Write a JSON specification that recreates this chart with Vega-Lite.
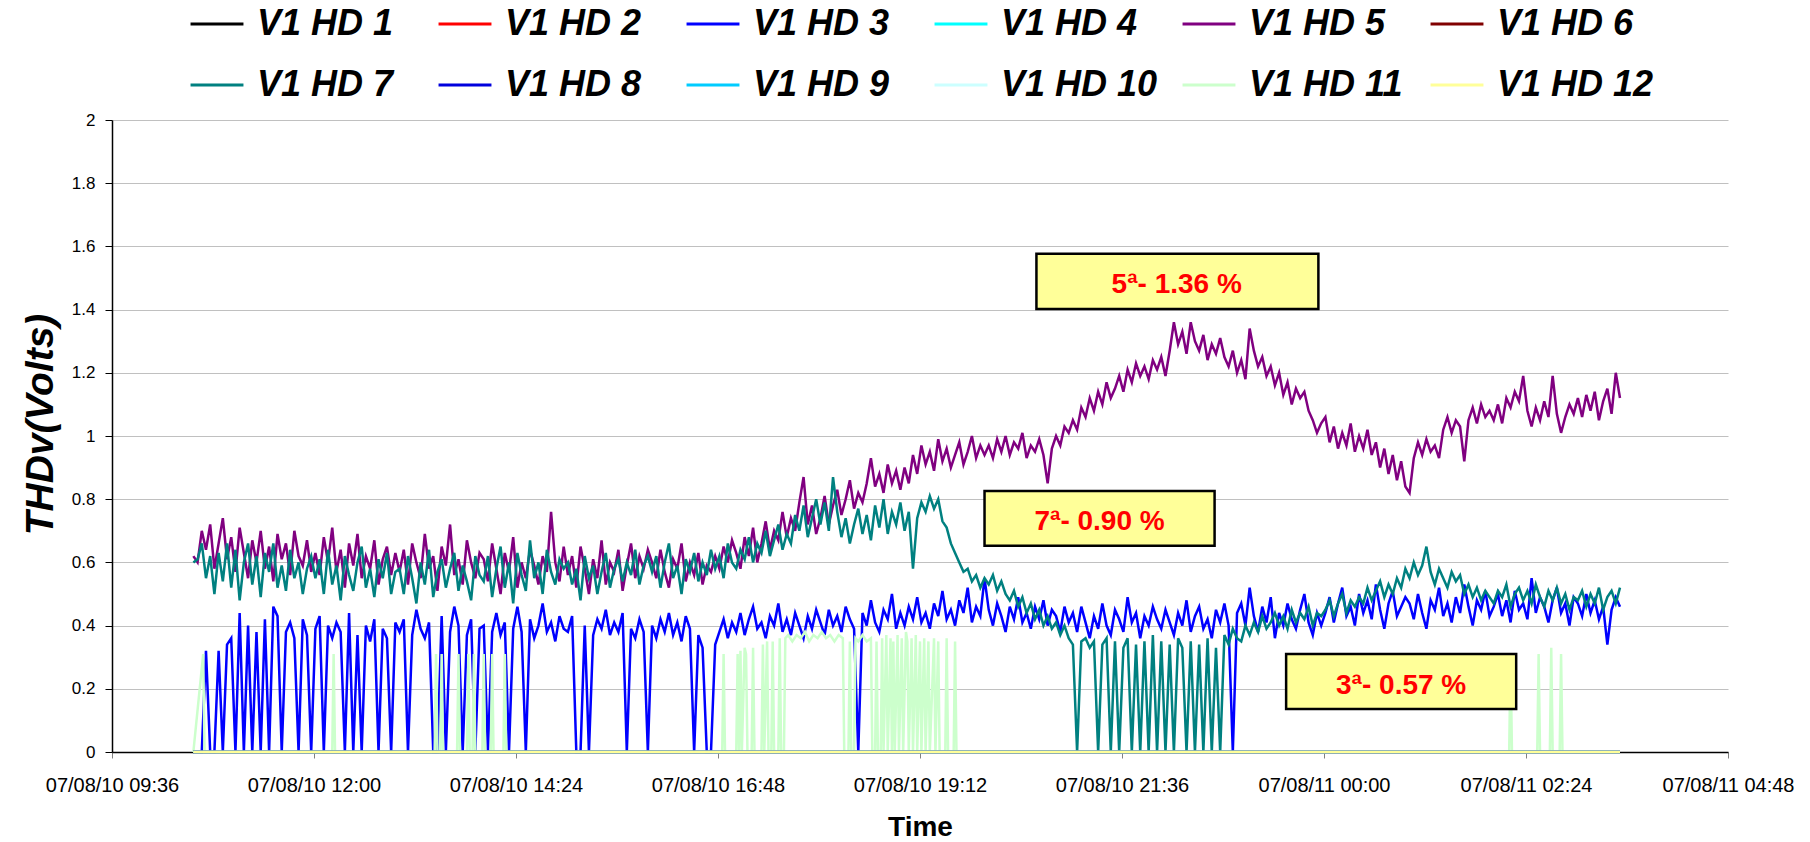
{
"$schema": "https://vega.github.io/schema/vega-lite/v6.json",
"width": 1616, "height": 632,
"autosize": {"type": "none"},
"padding": {"left": 112, "top": 120, "right": 82, "bottom": 90},
"background": "white",
"config": {
  "view": {"stroke": null},
  "font": "Liberation Sans",
  "axis": {"labelFont": "Liberation Sans", "titleFont": "Liberation Sans", "labelColor": "#000", "titleColor": "#000"}
},
"encoding": {
  "x": {"field": "t", "type": "temporal", "title": "Time",
    "scale": {"domain": [{"year": 2007, "month": 8, "date": 10, "hours": 9, "minutes": 36}, {"year": 2007, "month": 8, "date": 11, "hours": 4, "minutes": 48}], "nice": false},
    "axis": {"values": [
      {"year": 2007, "month": 8, "date": 10, "hours": 9, "minutes": 36},
      {"year": 2007, "month": 8, "date": 10, "hours": 12, "minutes": 0},
      {"year": 2007, "month": 8, "date": 10, "hours": 14, "minutes": 24},
      {"year": 2007, "month": 8, "date": 10, "hours": 16, "minutes": 48},
      {"year": 2007, "month": 8, "date": 10, "hours": 19, "minutes": 12},
      {"year": 2007, "month": 8, "date": 10, "hours": 21, "minutes": 36},
      {"year": 2007, "month": 8, "date": 11, "hours": 0, "minutes": 0},
      {"year": 2007, "month": 8, "date": 11, "hours": 2, "minutes": 24},
      {"year": 2007, "month": 8, "date": 11, "hours": 4, "minutes": 48}],
      "format": "%y/%m/%d %H:%M", "grid": false, "labelFontSize": 20, "labelPadding": 17, "tickSize": 6, "tickColor": "#808080", "domainColor": "#000", "domainWidth": 1.5, "labelOverlap": false, "labelFlush": false,
      "titleFontSize": 28, "titleFontWeight": "bold", "titleX": 808, "titleY": 75, "titleBaseline": "middle", "titleAlign": "center"}},
  "y": {"field": "v", "type": "quantitative", "title": "THDv(Volts)",
    "scale": {"domain": [0, 2], "nice": false},
    "axis": {"values": [0, 0.2, 0.4, 0.6, 0.8, 1, 1.2, 1.4, 1.6, 1.8, 2], "format": "~g", "labelFontSize": 17, "labelPadding": 10, "tickSize": 7, "tickColor": "#000", "domainColor": "#000", "domainWidth": 1.5, "grid": true, "gridColor": "#C0C0C0", "gridWidth": 1,
      "titleFontSize": 39, "titleFontWeight": "bold", "titleFontStyle": "italic", "titleAngle": 270, "titleX": -72, "titleY": 304, "titleAlign": "center", "titleBaseline": "middle"}}
},
"layer": [
{
  "data": {"values": [
{"t":"2007-08-10T10:34","h3":0,"h5":0.62,"h7":0.6},
{"t":"2007-08-10T10:37","h3":0,"h5":0.6,"h7":0.61},
{"t":"2007-08-10T10:40","h3":0,"h5":0.7,"h7":0.66},
{"t":"2007-08-10T10:43","h3":0.32,"h5":0.64,"h7":0.55},
{"t":"2007-08-10T10:46","h3":0,"h5":0.72,"h7":0.62},
{"t":"2007-08-10T10:49","h3":0,"h5":0.58,"h7":0.5},
{"t":"2007-08-10T10:52","h3":0.32,"h5":0.66,"h7":0.63},
{"t":"2007-08-10T10:55","h3":0,"h5":0.74,"h7":0.54},
{"t":"2007-08-10T10:58","h3":0.34,"h5":0.61,"h7":0.66},
{"t":"2007-08-10T11:01","h3":0.36,"h5":0.68,"h7":0.52},
{"t":"2007-08-10T11:04","h3":0,"h5":0.57,"h7":0.64},
{"t":"2007-08-10T11:07","h3":0.44,"h5":0.71,"h7":0.48},
{"t":"2007-08-10T11:10","h3":0,"h5":0.63,"h7":0.6},
{"t":"2007-08-10T11:13","h3":0.4,"h5":0.55,"h7":0.66},
{"t":"2007-08-10T11:16","h3":0,"h5":0.67,"h7":0.53},
{"t":"2007-08-10T11:19","h3":0.38,"h5":0.6,"h7":0.62},
{"t":"2007-08-10T11:22","h3":0,"h5":0.7,"h7":0.49},
{"t":"2007-08-10T11:25","h3":0.42,"h5":0.58,"h7":0.63},
{"t":"2007-08-10T11:28","h3":0,"h5":0.65,"h7":0.57},
{"t":"2007-08-10T11:31","h3":0.46,"h5":0.54,"h7":0.66},
{"t":"2007-08-10T11:34","h3":0.43,"h5":0.69,"h7":0.52},
{"t":"2007-08-10T11:37","h3":0,"h5":0.61,"h7":0.59},
{"t":"2007-08-10T11:40","h3":0.38,"h5":0.66,"h7":0.51},
{"t":"2007-08-10T11:43","h3":0.41,"h5":0.56,"h7":0.64},
{"t":"2007-08-10T11:46","h3":0.36,"h5":0.7,"h7":0.55},
{"t":"2007-08-10T11:49","h3":0,"h5":0.62,"h7":0.6},
{"t":"2007-08-10T11:52","h3":0.42,"h5":0.59,"h7":0.5},
{"t":"2007-08-10T11:55","h3":0.37,"h5":0.67,"h7":0.58},
{"t":"2007-08-10T11:58","h3":0,"h5":0.57,"h7":0.62},
{"t":"2007-08-10T12:01","h3":0.39,"h5":0.63,"h7":0.55},
{"t":"2007-08-10T12:04","h3":0.43,"h5":0.56,"h7":0.61},
{"t":"2007-08-10T12:07","h3":0,"h5":0.68,"h7":0.5},
{"t":"2007-08-10T12:10","h3":0.4,"h5":0.6,"h7":0.64},
{"t":"2007-08-10T12:13","h3":0.36,"h5":0.71,"h7":0.53},
{"t":"2007-08-10T12:16","h3":0.41,"h5":0.57,"h7":0.59},
{"t":"2007-08-10T12:19","h3":0.38,"h5":0.64,"h7":0.48},
{"t":"2007-08-10T12:22","h3":0,"h5":0.52,"h7":0.62},
{"t":"2007-08-10T12:25","h3":0.44,"h5":0.66,"h7":0.56},
{"t":"2007-08-10T12:28","h3":0,"h5":0.59,"h7":0.51},
{"t":"2007-08-10T12:31","h3":0.37,"h5":0.69,"h7":0.6},
{"t":"2007-08-10T12:34","h3":0,"h5":0.55,"h7":0.65},
{"t":"2007-08-10T12:37","h3":0.4,"h5":0.62,"h7":0.52},
{"t":"2007-08-10T12:40","h3":0.35,"h5":0.58,"h7":0.58},
{"t":"2007-08-10T12:43","h3":0.42,"h5":0.67,"h7":0.49},
{"t":"2007-08-10T12:46","h3":0,"h5":0.53,"h7":0.61},
{"t":"2007-08-10T12:49","h3":0.39,"h5":0.61,"h7":0.55},
{"t":"2007-08-10T12:52","h3":0.36,"h5":0.65,"h7":0.63},
{"t":"2007-08-10T12:55","h3":0,"h5":0.56,"h7":0.5},
{"t":"2007-08-10T12:58","h3":0.41,"h5":0.63,"h7":0.57},
{"t":"2007-08-10T13:01","h3":0.38,"h5":0.57,"h7":0.58},
{"t":"2007-08-10T13:04","h3":0.42,"h5":0.64,"h7":0.5},
{"t":"2007-08-10T13:07","h3":0,"h5":0.53,"h7":0.62},
{"t":"2007-08-10T13:10","h3":0.37,"h5":0.66,"h7":0.55},
{"t":"2007-08-10T13:13","h3":0.45,"h5":0.6,"h7":0.47},
{"t":"2007-08-10T13:16","h3":0.39,"h5":0.55,"h7":0.6},
{"t":"2007-08-10T13:19","h3":0.36,"h5":0.69,"h7":0.53},
{"t":"2007-08-10T13:22","h3":0.41,"h5":0.58,"h7":0.64},
{"t":"2007-08-10T13:25","h3":0,"h5":0.62,"h7":0.49},
{"t":"2007-08-10T13:28","h3":0,"h5":0.51,"h7":0.57},
{"t":"2007-08-10T13:31","h3":0.43,"h5":0.65,"h7":0.61},
{"t":"2007-08-10T13:34","h3":0,"h5":0.59,"h7":0.52},
{"t":"2007-08-10T13:37","h3":0.38,"h5":0.72,"h7":0.58},
{"t":"2007-08-10T13:40","h3":0.46,"h5":0.56,"h7":0.63},
{"t":"2007-08-10T13:43","h3":0.4,"h5":0.61,"h7":0.51},
{"t":"2007-08-10T13:46","h3":0,"h5":0.53,"h7":0.59},
{"t":"2007-08-10T13:49","h3":0.37,"h5":0.67,"h7":0.54},
{"t":"2007-08-10T13:52","h3":0.42,"h5":0.6,"h7":0.48},
{"t":"2007-08-10T13:55","h3":0,"h5":0.55,"h7":0.62},
{"t":"2007-08-10T13:58","h3":0.39,"h5":0.63,"h7":0.56},
{"t":"2007-08-10T14:01","h3":0.4,"h5":0.61,"h7":0.54},
{"t":"2007-08-10T14:04","h3":0,"h5":0.54,"h7":0.62},
{"t":"2007-08-10T14:07","h3":0.38,"h5":0.66,"h7":0.49},
{"t":"2007-08-10T14:10","h3":0.44,"h5":0.58,"h7":0.58},
{"t":"2007-08-10T14:13","h3":0.37,"h5":0.5,"h7":0.65},
{"t":"2007-08-10T14:16","h3":0.41,"h5":0.63,"h7":0.52},
{"t":"2007-08-10T14:19","h3":0,"h5":0.57,"h7":0.6},
{"t":"2007-08-10T14:22","h3":0.39,"h5":0.68,"h7":0.47},
{"t":"2007-08-10T14:25","h3":0.46,"h5":0.52,"h7":0.63},
{"t":"2007-08-10T14:28","h3":0.38,"h5":0.6,"h7":0.56},
{"t":"2007-08-10T14:31","h3":0,"h5":0.55,"h7":0.51},
{"t":"2007-08-10T14:34","h3":0.42,"h5":0.64,"h7":0.67},
{"t":"2007-08-10T14:37","h3":0.36,"h5":0.59,"h7":0.55},
{"t":"2007-08-10T14:40","h3":0.4,"h5":0.53,"h7":0.6},
{"t":"2007-08-10T14:43","h3":0.47,"h5":0.62,"h7":0.5},
{"t":"2007-08-10T14:46","h3":0.38,"h5":0.57,"h7":0.64},
{"t":"2007-08-10T14:49","h3":0.41,"h5":0.76,"h7":0.57},
{"t":"2007-08-10T14:52","h3":0.35,"h5":0.6,"h7":0.53},
{"t":"2007-08-10T14:55","h3":0.43,"h5":0.54,"h7":0.61},
{"t":"2007-08-10T14:58","h3":0.39,"h5":0.65,"h7":0.58},
{"t":"2007-08-10T15:01","h3":0.38,"h5":0.56,"h7":0.6},
{"t":"2007-08-10T15:04","h3":0.43,"h5":0.62,"h7":0.53},
{"t":"2007-08-10T15:07","h3":0,"h5":0.52,"h7":0.58},
{"t":"2007-08-10T15:10","h3":0,"h5":0.65,"h7":0.48},
{"t":"2007-08-10T15:13","h3":0.4,"h5":0.58,"h7":0.62},
{"t":"2007-08-10T15:16","h3":0,"h5":0.5,"h7":0.55},
{"t":"2007-08-10T15:19","h3":0.37,"h5":0.61,"h7":0.59},
{"t":"2007-08-10T15:22","h3":0.42,"h5":0.55,"h7":0.5},
{"t":"2007-08-10T15:25","h3":0.39,"h5":0.67,"h7":0.57},
{"t":"2007-08-10T15:28","h3":0.45,"h5":0.53,"h7":0.63},
{"t":"2007-08-10T15:31","h3":0.37,"h5":0.6,"h7":0.52},
{"t":"2007-08-10T15:34","h3":0.41,"h5":0.57,"h7":0.58},
{"t":"2007-08-10T15:37","h3":0.38,"h5":0.64,"h7":0.61},
{"t":"2007-08-10T15:40","h3":0.44,"h5":0.51,"h7":0.54},
{"t":"2007-08-10T15:43","h3":0,"h5":0.59,"h7":0.6},
{"t":"2007-08-10T15:46","h3":0.39,"h5":0.66,"h7":0.56},
{"t":"2007-08-10T15:49","h3":0.36,"h5":0.55,"h7":0.64},
{"t":"2007-08-10T15:52","h3":0.42,"h5":0.62,"h7":0.53},
{"t":"2007-08-10T15:55","h3":0.38,"h5":0.58,"h7":0.59},
{"t":"2007-08-10T15:58","h3":0,"h5":0.64,"h7":0.62},
{"t":"2007-08-10T16:01","h3":0.4,"h5":0.6,"h7":0.57},
{"t":"2007-08-10T16:04","h3":0.36,"h5":0.55,"h7":0.62},
{"t":"2007-08-10T16:07","h3":0.42,"h5":0.64,"h7":0.52},
{"t":"2007-08-10T16:10","h3":0.38,"h5":0.57,"h7":0.6},
{"t":"2007-08-10T16:13","h3":0.44,"h5":0.52,"h7":0.66},
{"t":"2007-08-10T16:16","h3":0.37,"h5":0.61,"h7":0.55},
{"t":"2007-08-10T16:19","h3":0.41,"h5":0.58,"h7":0.59},
{"t":"2007-08-10T16:22","h3":0.35,"h5":0.66,"h7":0.5},
{"t":"2007-08-10T16:25","h3":0.43,"h5":0.54,"h7":0.61},
{"t":"2007-08-10T16:28","h3":0.39,"h5":0.6,"h7":0.57},
{"t":"2007-08-10T16:31","h3":0,"h5":0.56,"h7":0.63},
{"t":"2007-08-10T16:34","h3":0.37,"h5":0.63,"h7":0.54},
{"t":"2007-08-10T16:37","h3":0.33,"h5":0.53,"h7":0.6},
{"t":"2007-08-10T16:40","h3":0,"h5":0.59,"h7":0.56},
{"t":"2007-08-10T16:43","h3":0,"h5":0.57,"h7":0.64},
{"t":"2007-08-10T16:46","h3":0.34,"h5":0.62,"h7":0.58},
{"t":"2007-08-10T16:49","h3":0.38,"h5":0.58,"h7":0.62},
{"t":"2007-08-10T16:52","h3":0.42,"h5":0.65,"h7":0.55},
{"t":"2007-08-10T16:55","h3":0.36,"h5":0.6,"h7":0.66},
{"t":"2007-08-10T16:58","h3":0.41,"h5":0.67,"h7":0.6},
{"t":"2007-08-10T17:01","h3":0.38,"h5":0.63,"h7":0.58},
{"t":"2007-08-10T17:04","h3":0.44,"h5":0.58,"h7":0.64},
{"t":"2007-08-10T17:07","h3":0.37,"h5":0.68,"h7":0.61},
{"t":"2007-08-10T17:10","h3":0.42,"h5":0.62,"h7":0.68},
{"t":"2007-08-10T17:13","h3":0.46,"h5":0.71,"h7":0.6},
{"t":"2007-08-10T17:16","h3":0.39,"h5":0.6,"h7":0.66},
{"t":"2007-08-10T17:19","h3":0.41,"h5":0.66,"h7":0.63},
{"t":"2007-08-10T17:22","h3":0.36,"h5":0.73,"h7":0.7},
{"t":"2007-08-10T17:25","h3":0.43,"h5":0.64,"h7":0.62},
{"t":"2007-08-10T17:28","h3":0.4,"h5":0.7,"h7":0.67},
{"t":"2007-08-10T17:31","h3":0.47,"h5":0.67,"h7":0.72},
{"t":"2007-08-10T17:34","h3":0.38,"h5":0.76,"h7":0.64},
{"t":"2007-08-10T17:37","h3":0.42,"h5":0.68,"h7":0.69},
{"t":"2007-08-10T17:40","h3":0.37,"h5":0.74,"h7":0.66},
{"t":"2007-08-10T17:43","h3":0.44,"h5":0.7,"h7":0.75},
{"t":"2007-08-10T17:46","h3":0.4,"h5":0.79,"h7":0.7},
{"t":"2007-08-10T17:49","h3":0.36,"h5":0.87,"h7":0.78},
{"t":"2007-08-10T17:52","h3":0.43,"h5":0.72,"h7":0.68},
{"t":"2007-08-10T17:55","h3":0.39,"h5":0.78,"h7":0.74},
{"t":"2007-08-10T17:58","h3":0.45,"h5":0.69,"h7":0.8},
{"t":"2007-08-10T18:01","h3":0.41,"h5":0.74,"h7":0.72},
{"t":"2007-08-10T18:04","h3":0.37,"h5":0.81,"h7":0.79},
{"t":"2007-08-10T18:07","h3":0.45,"h5":0.72,"h7":0.7},
{"t":"2007-08-10T18:10","h3":0.4,"h5":0.78,"h7":0.87},
{"t":"2007-08-10T18:13","h3":0.43,"h5":0.83,"h7":0.76},
{"t":"2007-08-10T18:16","h3":0.38,"h5":0.75,"h7":0.68},
{"t":"2007-08-10T18:19","h3":0.46,"h5":0.8,"h7":0.74},
{"t":"2007-08-10T18:22","h3":0.42,"h5":0.86,"h7":0.66},
{"t":"2007-08-10T18:25","h3":0.39,"h5":0.77,"h7":0.72},
{"t":"2007-08-10T18:28","h3":0,"h5":0.82,"h7":0.77},
{"t":"2007-08-10T18:31","h3":0.44,"h5":0.79,"h7":0.69},
{"t":"2007-08-10T18:34","h3":0.4,"h5":0.85,"h7":0.75},
{"t":"2007-08-10T18:37","h3":0.48,"h5":0.93,"h7":0.67},
{"t":"2007-08-10T18:40","h3":0.41,"h5":0.84,"h7":0.78},
{"t":"2007-08-10T18:43","h3":0.38,"h5":0.88,"h7":0.71},
{"t":"2007-08-10T18:46","h3":0.45,"h5":0.82,"h7":0.8},
{"t":"2007-08-10T18:49","h3":0.42,"h5":0.91,"h7":0.69},
{"t":"2007-08-10T18:52","h3":0.5,"h5":0.85,"h7":0.76},
{"t":"2007-08-10T18:55","h3":0.39,"h5":0.89,"h7":0.72},
{"t":"2007-08-10T18:58","h3":0.44,"h5":0.83,"h7":0.79},
{"t":"2007-08-10T19:01","h3":0.4,"h5":0.9,"h7":0.7},
{"t":"2007-08-10T19:04","h3":0.46,"h5":0.85,"h7":0.76},
{"t":"2007-08-10T19:07","h3":0.42,"h5":0.94,"h7":0.58},
{"t":"2007-08-10T19:10","h3":0.49,"h5":0.88,"h7":0.74},
{"t":"2007-08-10T19:13","h3":0.41,"h5":0.97,"h7":0.79},
{"t":"2007-08-10T19:16","h3":0.44,"h5":0.91,"h7":0.76},
{"t":"2007-08-10T19:19","h3":0.39,"h5":0.95,"h7":0.81},
{"t":"2007-08-10T19:22","h3":0.47,"h5":0.89,"h7":0.77},
{"t":"2007-08-10T19:25","h3":0.43,"h5":0.99,"h7":0.8},
{"t":"2007-08-10T19:28","h3":0.51,"h5":0.92,"h7":0.73},
{"t":"2007-08-10T19:31","h3":0.42,"h5":0.96,"h7":0.71},
{"t":"2007-08-10T19:34","h3":0.45,"h5":0.9,"h7":0.66},
{"t":"2007-08-10T19:37","h3":0.4,"h5":0.94,"h7":0.63},
{"t":"2007-08-10T19:40","h3":0.48,"h5":0.98,"h7":0.6},
{"t":"2007-08-10T19:43","h3":0.44,"h5":0.91,"h7":0.57},
{"t":"2007-08-10T19:46","h3":0.52,"h5":0.95,"h7":0.58},
{"t":"2007-08-10T19:49","h3":0.41,"h5":1.0,"h7":0.54},
{"t":"2007-08-10T19:52","h3":0.46,"h5":0.93,"h7":0.56},
{"t":"2007-08-10T19:55","h3":0.43,"h5":0.97,"h7":0.52},
{"t":"2007-08-10T19:58","h3":0.55,"h5":0.94,"h7":0.55},
{"t":"2007-08-10T20:01","h3":0.45,"h5":0.97,"h7":0.53},
{"t":"2007-08-10T20:04","h3":0.4,"h5":0.93,"h7":0.56},
{"t":"2007-08-10T20:07","h3":0.47,"h5":0.99,"h7":0.51},
{"t":"2007-08-10T20:10","h3":0.43,"h5":0.95,"h7":0.54},
{"t":"2007-08-10T20:13","h3":0.38,"h5":1.0,"h7":0.5},
{"t":"2007-08-10T20:16","h3":0.46,"h5":0.94,"h7":0.48},
{"t":"2007-08-10T20:19","h3":0.42,"h5":0.98,"h7":0.51},
{"t":"2007-08-10T20:22","h3":0.49,"h5":0.96,"h7":0.46},
{"t":"2007-08-10T20:25","h3":0.41,"h5":1.01,"h7":0.49},
{"t":"2007-08-10T20:28","h3":0.44,"h5":0.93,"h7":0.44},
{"t":"2007-08-10T20:31","h3":0.39,"h5":0.97,"h7":0.47},
{"t":"2007-08-10T20:34","h3":0.46,"h5":0.95,"h7":0.42},
{"t":"2007-08-10T20:37","h3":0.42,"h5":0.99,"h7":0.45},
{"t":"2007-08-10T20:40","h3":0.48,"h5":0.94,"h7":0.4},
{"t":"2007-08-10T20:43","h3":0.4,"h5":0.85,"h7":0.43},
{"t":"2007-08-10T20:46","h3":0.45,"h5":0.96,"h7":0.39},
{"t":"2007-08-10T20:49","h3":0.43,"h5":1.0,"h7":0.41},
{"t":"2007-08-10T20:52","h3":0.38,"h5":0.97,"h7":0.37},
{"t":"2007-08-10T20:55","h3":0.46,"h5":1.03,"h7":0.4},
{"t":"2007-08-10T20:58","h3":0.41,"h5":1.01,"h7":0.36},
{"t":"2007-08-10T21:01","h3":0.44,"h5":1.05,"h7":0.34},
{"t":"2007-08-10T21:04","h3":0.38,"h5":1.02,"h7":0},
{"t":"2007-08-10T21:07","h3":0.46,"h5":1.09,"h7":0.35},
{"t":"2007-08-10T21:10","h3":0.41,"h5":1.06,"h7":0.36},
{"t":"2007-08-10T21:13","h3":0.36,"h5":1.12,"h7":0.33},
{"t":"2007-08-10T21:16","h3":0.43,"h5":1.08,"h7":0.35},
{"t":"2007-08-10T21:19","h3":0.39,"h5":1.14,"h7":0},
{"t":"2007-08-10T21:22","h3":0.47,"h5":1.1,"h7":0.34},
{"t":"2007-08-10T21:25","h3":0.4,"h5":1.17,"h7":0.36},
{"t":"2007-08-10T21:28","h3":0.37,"h5":1.12,"h7":0},
{"t":"2007-08-10T21:31","h3":0.45,"h5":1.15,"h7":0.35},
{"t":"2007-08-10T21:34","h3":0.42,"h5":1.19,"h7":0},
{"t":"2007-08-10T21:37","h3":0.38,"h5":1.14,"h7":0.33},
{"t":"2007-08-10T21:40","h3":0.49,"h5":1.21,"h7":0.36},
{"t":"2007-08-10T21:43","h3":0.41,"h5":1.17,"h7":0},
{"t":"2007-08-10T21:46","h3":0.44,"h5":1.23,"h7":0.34},
{"t":"2007-08-10T21:49","h3":0.36,"h5":1.19,"h7":0},
{"t":"2007-08-10T21:52","h3":0.43,"h5":1.22,"h7":0.35},
{"t":"2007-08-10T21:55","h3":0.4,"h5":1.18,"h7":0},
{"t":"2007-08-10T21:58","h3":0.46,"h5":1.24,"h7":0.37},
{"t":"2007-08-10T22:01","h3":0.42,"h5":1.21,"h7":0},
{"t":"2007-08-10T22:04","h3":0.39,"h5":1.25,"h7":0.35},
{"t":"2007-08-10T22:07","h3":0.45,"h5":1.19,"h7":0},
{"t":"2007-08-10T22:10","h3":0.41,"h5":1.27,"h7":0.34},
{"t":"2007-08-10T22:13","h3":0.37,"h5":1.36,"h7":0},
{"t":"2007-08-10T22:16","h3":0.44,"h5":1.29,"h7":0.36},
{"t":"2007-08-10T22:19","h3":0.4,"h5":1.33,"h7":0.33},
{"t":"2007-08-10T22:22","h3":0.48,"h5":1.26,"h7":0},
{"t":"2007-08-10T22:25","h3":0.38,"h5":1.36,"h7":0.35},
{"t":"2007-08-10T22:28","h3":0.43,"h5":1.3,"h7":0},
{"t":"2007-08-10T22:31","h3":0.46,"h5":1.27,"h7":0.34},
{"t":"2007-08-10T22:34","h3":0.39,"h5":1.32,"h7":0},
{"t":"2007-08-10T22:37","h3":0.42,"h5":1.24,"h7":0.36},
{"t":"2007-08-10T22:40","h3":0.36,"h5":1.29,"h7":0},
{"t":"2007-08-10T22:43","h3":0.45,"h5":1.26,"h7":0.33},
{"t":"2007-08-10T22:46","h3":0.41,"h5":1.31,"h7":0},
{"t":"2007-08-10T22:49","h3":0.47,"h5":1.25,"h7":0.37},
{"t":"2007-08-10T22:52","h3":0.4,"h5":1.22,"h7":0.34},
{"t":"2007-08-10T22:55","h3":0,"h5":1.27,"h7":0.39},
{"t":"2007-08-10T22:58","h3":0.44,"h5":1.2,"h7":0.36},
{"t":"2007-08-10T23:01","h3":0.47,"h5":1.24,"h7":0.35},
{"t":"2007-08-10T23:04","h3":0.4,"h5":1.18,"h7":0.4},
{"t":"2007-08-10T23:07","h3":0.52,"h5":1.34,"h7":0.37},
{"t":"2007-08-10T23:10","h3":0.43,"h5":1.27,"h7":0.41},
{"t":"2007-08-10T23:13","h3":0.38,"h5":1.22,"h7":0.38},
{"t":"2007-08-10T23:16","h3":0.46,"h5":1.25,"h7":0.43},
{"t":"2007-08-10T23:19","h3":0.41,"h5":1.19,"h7":0.39},
{"t":"2007-08-10T23:22","h3":0.49,"h5":1.22,"h7":0.41},
{"t":"2007-08-10T23:25","h3":0.36,"h5":1.16,"h7":0.44},
{"t":"2007-08-10T23:28","h3":0.44,"h5":1.2,"h7":0.4},
{"t":"2007-08-10T23:31","h3":0.4,"h5":1.13,"h7":0.43},
{"t":"2007-08-10T23:34","h3":0.47,"h5":1.17,"h7":0.39},
{"t":"2007-08-10T23:37","h3":0.42,"h5":1.1,"h7":0.45},
{"t":"2007-08-10T23:40","h3":0.39,"h5":1.15,"h7":0.41},
{"t":"2007-08-10T23:43","h3":0.45,"h5":1.12,"h7":0.44},
{"t":"2007-08-10T23:46","h3":0.5,"h5":1.14,"h7":0.42},
{"t":"2007-08-10T23:49","h3":0.41,"h5":1.08,"h7":0.46},
{"t":"2007-08-10T23:52","h3":0.37,"h5":1.05,"h7":0.4},
{"t":"2007-08-10T23:55","h3":0.44,"h5":1.01,"h7":0.44},
{"t":"2007-08-10T23:58","h3":0.4,"h5":1.04,"h7":0.43},
{"t":"2007-08-11T00:01","h3":0.44,"h5":1.06,"h7":0.45},
{"t":"2007-08-11T00:04","h3":0.49,"h5":0.98,"h7":0.48},
{"t":"2007-08-11T00:07","h3":0.41,"h5":1.03,"h7":0.43},
{"t":"2007-08-11T00:10","h3":0.47,"h5":0.96,"h7":0.47},
{"t":"2007-08-11T00:13","h3":0.52,"h5":1.01,"h7":0.5},
{"t":"2007-08-11T00:16","h3":0.43,"h5":0.97,"h7":0.44},
{"t":"2007-08-11T00:19","h3":0.46,"h5":1.04,"h7":0.48},
{"t":"2007-08-11T00:22","h3":0.4,"h5":0.95,"h7":0.46},
{"t":"2007-08-11T00:25","h3":0.5,"h5":1.0,"h7":0.49},
{"t":"2007-08-11T00:28","h3":0.44,"h5":0.96,"h7":0.47},
{"t":"2007-08-11T00:31","h3":0.48,"h5":1.02,"h7":0.52},
{"t":"2007-08-11T00:34","h3":0.42,"h5":0.94,"h7":0.48},
{"t":"2007-08-11T00:37","h3":0.53,"h5":0.98,"h7":0.51},
{"t":"2007-08-11T00:40","h3":0.45,"h5":0.9,"h7":0.54},
{"t":"2007-08-11T00:43","h3":0.39,"h5":0.96,"h7":0.49},
{"t":"2007-08-11T00:46","h3":0.47,"h5":0.88,"h7":0.53},
{"t":"2007-08-11T00:49","h3":0.51,"h5":0.94,"h7":0.5},
{"t":"2007-08-11T00:52","h3":0.43,"h5":0.86,"h7":0.55},
{"t":"2007-08-11T00:55","h3":0.46,"h5":0.92,"h7":0.52},
{"t":"2007-08-11T00:58","h3":0.49,"h5":0.84,"h7":0.58},
{"t":"2007-08-11T01:01","h3":0.47,"h5":0.82,"h7":0.55},
{"t":"2007-08-11T01:04","h3":0.42,"h5":0.93,"h7":0.6},
{"t":"2007-08-11T01:07","h3":0.5,"h5":0.98,"h7":0.56},
{"t":"2007-08-11T01:10","h3":0.44,"h5":0.94,"h7":0.59},
{"t":"2007-08-11T01:13","h3":0.39,"h5":0.99,"h7":0.65},
{"t":"2007-08-11T01:16","h3":0.48,"h5":0.95,"h7":0.57},
{"t":"2007-08-11T01:19","h3":0.45,"h5":0.97,"h7":0.53},
{"t":"2007-08-11T01:22","h3":0.52,"h5":0.93,"h7":0.58},
{"t":"2007-08-11T01:25","h3":0.43,"h5":1.02,"h7":0.55},
{"t":"2007-08-11T01:28","h3":0.47,"h5":1.06,"h7":0.52},
{"t":"2007-08-11T01:31","h3":0.41,"h5":1.01,"h7":0.57},
{"t":"2007-08-11T01:34","h3":0.49,"h5":1.05,"h7":0.54},
{"t":"2007-08-11T01:37","h3":0.44,"h5":1.03,"h7":0.56},
{"t":"2007-08-11T01:40","h3":0.53,"h5":0.92,"h7":0.5},
{"t":"2007-08-11T01:43","h3":0.46,"h5":1.05,"h7":0.53},
{"t":"2007-08-11T01:46","h3":0.4,"h5":1.09,"h7":0.49},
{"t":"2007-08-11T01:49","h3":0.48,"h5":1.04,"h7":0.52},
{"t":"2007-08-11T01:52","h3":0.45,"h5":1.1,"h7":0.48},
{"t":"2007-08-11T01:55","h3":0.51,"h5":1.06,"h7":0.51},
{"t":"2007-08-11T01:58","h3":0.43,"h5":1.08,"h7":0.49},
{"t":"2007-08-11T02:01","h3":0.46,"h5":1.05,"h7":0.47},
{"t":"2007-08-11T02:04","h3":0.5,"h5":1.1,"h7":0.51},
{"t":"2007-08-11T02:07","h3":0.43,"h5":1.04,"h7":0.49},
{"t":"2007-08-11T02:10","h3":0.48,"h5":1.12,"h7":0.53},
{"t":"2007-08-11T02:13","h3":0.41,"h5":1.09,"h7":0.46},
{"t":"2007-08-11T02:16","h3":0.51,"h5":1.14,"h7":0.5},
{"t":"2007-08-11T02:19","h3":0.45,"h5":1.11,"h7":0.52},
{"t":"2007-08-11T02:22","h3":0.47,"h5":1.19,"h7":0.48},
{"t":"2007-08-11T02:25","h3":0.42,"h5":1.08,"h7":0.51},
{"t":"2007-08-11T02:28","h3":0.55,"h5":1.03,"h7":0.47},
{"t":"2007-08-11T02:31","h3":0.44,"h5":1.09,"h7":0.53},
{"t":"2007-08-11T02:34","h3":0.49,"h5":1.05,"h7":0.49},
{"t":"2007-08-11T02:37","h3":0.46,"h5":1.11,"h7":0.46},
{"t":"2007-08-11T02:40","h3":0.41,"h5":1.06,"h7":0.51},
{"t":"2007-08-11T02:43","h3":0.48,"h5":1.19,"h7":0.48},
{"t":"2007-08-11T02:46","h3":0.52,"h5":1.07,"h7":0.52},
{"t":"2007-08-11T02:49","h3":0.44,"h5":1.01,"h7":0.47},
{"t":"2007-08-11T02:52","h3":0.47,"h5":1.06,"h7":0.5},
{"t":"2007-08-11T02:55","h3":0.4,"h5":1.1,"h7":0.45},
{"t":"2007-08-11T02:58","h3":0.49,"h5":1.07,"h7":0.49},
{"t":"2007-08-11T03:01","h3":0.47,"h5":1.12,"h7":0.48},
{"t":"2007-08-11T03:04","h3":0.43,"h5":1.06,"h7":0.51},
{"t":"2007-08-11T03:07","h3":0.5,"h5":1.13,"h7":0.46},
{"t":"2007-08-11T03:10","h3":0.44,"h5":1.08,"h7":0.5},
{"t":"2007-08-11T03:13","h3":0.48,"h5":1.14,"h7":0.47},
{"t":"2007-08-11T03:16","h3":0.42,"h5":1.05,"h7":0.52},
{"t":"2007-08-11T03:19","h3":0.46,"h5":1.11,"h7":0.45},
{"t":"2007-08-11T03:22","h3":0.34,"h5":1.15,"h7":0.49},
{"t":"2007-08-11T03:25","h3":0.45,"h5":1.07,"h7":0.51},
{"t":"2007-08-11T03:28","h3":0.49,"h5":1.2,"h7":0.47},
{"t":"2007-08-11T03:31","h3":0.46,"h5":1.12,"h7":0.52}
  ]},
  "transform": [{"fold": ["h3", "h5", "h7"], "as": ["k", "v"]}],
  "mark": {"type": "line", "strokeWidth": 2.5},
  "encoding": {
    "color": {"field": "k", "type": "nominal",
      "scale": {"domain": ["h1","h2","h3","h4","h5","h6","h7","h8","h9","h10","h11","h12"],
                "range": ["#000000","#FF0000","#0000FF","#00FFFF","#800080","#800000","#008080","#0000DD","#00CCFF","#CCFFFF","#CCFFCC","#FFFF99"]},
      "legend": {"orient": "none", "legendX": 77, "legendY": -124, "columns": 6, "direction": "horizontal", "symbolType": "stroke", "symbolSize": 2800, "symbolStrokeWidth": 3, "labelFont": "Liberation Sans", "labelFontSize": 36, "labelFontWeight": "bold", "labelFontStyle": "italic", "labelColor": "#000", "labelOffset": 12, "columnPadding": 18, "rowPadding": 15, "gridAlign": "all", "labelLimit": 400, "title": null, "padding": 0, "labelExpr": "'V1 HD ' + slice(datum.label, 1)"}}
  }
},
{
  "data": {"values": [
{"t":"2007-08-10T10:34","h11":0},{"t":"2007-08-10T10:41","h11":0.31},{"t":"2007-08-10T10:42","h11":0},
{"t":"2007-08-10T12:13","h11":0},{"t":"2007-08-10T12:14","h11":0.31},{"t":"2007-08-10T12:15","h11":0},
{"t":"2007-08-10T13:26","h11":0},{"t":"2007-08-10T13:27","h11":0.31},{"t":"2007-08-10T13:28","h11":0},
{"t":"2007-08-10T13:30","h11":0},{"t":"2007-08-10T13:31","h11":0.31},{"t":"2007-08-10T13:32","h11":0},
{"t":"2007-08-10T13:42","h11":0},{"t":"2007-08-10T13:43","h11":0.31},{"t":"2007-08-10T13:44","h11":0},
{"t":"2007-08-10T13:49","h11":0},{"t":"2007-08-10T13:50","h11":0.31},{"t":"2007-08-10T13:51","h11":0},
{"t":"2007-08-10T13:53","h11":0},{"t":"2007-08-10T13:54","h11":0.31},{"t":"2007-08-10T13:55","h11":0},
{"t":"2007-08-10T14:00","h11":0},{"t":"2007-08-10T14:01","h11":0.31},{"t":"2007-08-10T14:02","h11":0},
{"t":"2007-08-10T14:06","h11":0},{"t":"2007-08-10T14:07","h11":0.31},{"t":"2007-08-10T14:08","h11":0},
{"t":"2007-08-10T14:15","h11":0},{"t":"2007-08-10T14:16","h11":0.31},{"t":"2007-08-10T14:17","h11":0},
{"t":"2007-08-10T16:51","h11":0},{"t":"2007-08-10T16:52","h11":0.31},{"t":"2007-08-10T16:53","h11":0},
{"t":"2007-08-10T17:01","h11":0},{"t":"2007-08-10T17:02","h11":0.31},{"t":"2007-08-10T17:03","h11":0},
{"t":"2007-08-10T17:04","h11":0.32},{"t":"2007-08-10T17:05","h11":0},{"t":"2007-08-10T17:07","h11":0.33},
{"t":"2007-08-10T17:08","h11":0.31},{"t":"2007-08-10T17:09","h11":0},{"t":"2007-08-10T17:12","h11":0},
{"t":"2007-08-10T17:13","h11":0.33},{"t":"2007-08-10T17:14","h11":0},{"t":"2007-08-10T17:19","h11":0},
{"t":"2007-08-10T17:20","h11":0.34},{"t":"2007-08-10T17:21","h11":0},{"t":"2007-08-10T17:23","h11":0.35},
{"t":"2007-08-10T17:24","h11":0},{"t":"2007-08-10T17:26","h11":0},{"t":"2007-08-10T17:27","h11":0.35},
{"t":"2007-08-10T17:28","h11":0},{"t":"2007-08-10T17:31","h11":0},{"t":"2007-08-10T17:32","h11":0.36},
{"t":"2007-08-10T17:33","h11":0},{"t":"2007-08-10T17:35","h11":0},{"t":"2007-08-10T17:36","h11":0.36},
{"t":"2007-08-10T17:38","h11":0.37},{"t":"2007-08-10T17:41","h11":0.35},{"t":"2007-08-10T17:44","h11":0.37},
{"t":"2007-08-10T17:47","h11":0.36},{"t":"2007-08-10T17:50","h11":0.38},{"t":"2007-08-10T17:53","h11":0.35},
{"t":"2007-08-10T17:56","h11":0.37},{"t":"2007-08-10T17:59","h11":0.36},{"t":"2007-08-10T18:02","h11":0.38},
{"t":"2007-08-10T18:05","h11":0.36},{"t":"2007-08-10T18:08","h11":0.37},{"t":"2007-08-10T18:11","h11":0.35},
{"t":"2007-08-10T18:14","h11":0.37},{"t":"2007-08-10T18:17","h11":0.36},{"t":"2007-08-10T18:18","h11":0},
{"t":"2007-08-10T18:21","h11":0},{"t":"2007-08-10T18:22","h11":0.35},{"t":"2007-08-10T18:23","h11":0},
{"t":"2007-08-10T18:25","h11":0},{"t":"2007-08-10T18:26","h11":0.36},{"t":"2007-08-10T18:28","h11":0.35},
{"t":"2007-08-10T18:31","h11":0.37},{"t":"2007-08-10T18:34","h11":0.35},{"t":"2007-08-10T18:37","h11":0.36},
{"t":"2007-08-10T18:38","h11":0},{"t":"2007-08-10T18:40","h11":0},{"t":"2007-08-10T18:41","h11":0.35},
{"t":"2007-08-10T18:42","h11":0},{"t":"2007-08-10T18:44","h11":0},{"t":"2007-08-10T18:45","h11":0.36},
{"t":"2007-08-10T18:46","h11":0},{"t":"2007-08-10T18:48","h11":0.37},{"t":"2007-08-10T18:49","h11":0},
{"t":"2007-08-10T18:51","h11":0.36},{"t":"2007-08-10T18:52","h11":0},{"t":"2007-08-10T18:53","h11":0.35},
{"t":"2007-08-10T18:54","h11":0},{"t":"2007-08-10T18:56","h11":0.37},{"t":"2007-08-10T18:57","h11":0},
{"t":"2007-08-10T18:59","h11":0.36},{"t":"2007-08-10T19:00","h11":0},{"t":"2007-08-10T19:02","h11":0.38},
{"t":"2007-08-10T19:03","h11":0.35},{"t":"2007-08-10T19:04","h11":0},{"t":"2007-08-10T19:06","h11":0.36},
{"t":"2007-08-10T19:07","h11":0},{"t":"2007-08-10T19:09","h11":0.37},{"t":"2007-08-10T19:10","h11":0},
{"t":"2007-08-10T19:12","h11":0.35},{"t":"2007-08-10T19:13","h11":0},{"t":"2007-08-10T19:15","h11":0.36},
{"t":"2007-08-10T19:16","h11":0},{"t":"2007-08-10T19:18","h11":0.35},{"t":"2007-08-10T19:19","h11":0},
{"t":"2007-08-10T19:22","h11":0.36},{"t":"2007-08-10T19:23","h11":0},{"t":"2007-08-10T19:25","h11":0.35},
{"t":"2007-08-10T19:26","h11":0},{"t":"2007-08-10T19:30","h11":0},{"t":"2007-08-10T19:31","h11":0.36},
{"t":"2007-08-10T19:32","h11":0},{"t":"2007-08-10T19:36","h11":0},{"t":"2007-08-10T19:37","h11":0.35},
{"t":"2007-08-10T19:38","h11":0},{"t":"2007-08-10T19:40","h11":0},
{"t":"2007-08-11T02:12","h11":0},{"t":"2007-08-11T02:13","h11":0.3},{"t":"2007-08-11T02:14","h11":0},
{"t":"2007-08-11T02:32","h11":0},{"t":"2007-08-11T02:33","h11":0.31},{"t":"2007-08-11T02:34","h11":0},
{"t":"2007-08-11T02:41","h11":0},{"t":"2007-08-11T02:42","h11":0.33},{"t":"2007-08-11T02:43","h11":0},
{"t":"2007-08-11T02:48","h11":0},{"t":"2007-08-11T02:49","h11":0.31},{"t":"2007-08-11T02:50","h11":0},
{"t":"2007-08-11T03:31","h11":0}
  ]},
  "transform": [{"fold": ["h11"], "as": ["k", "v"]}],
  "mark": {"type": "line", "strokeWidth": 2.5},
  "encoding": {"color": {"field": "k", "type": "nominal"}}
},
{
  "data": {"values": [
    {"t":"2007-08-10T10:34","h1":0,"h2":0,"h4":0,"h6":0,"h8":0,"h9":0,"h10":0,"h12":0},
    {"t":"2007-08-11T03:31","h1":0,"h2":0,"h4":0,"h6":0,"h8":0,"h9":0,"h10":0,"h12":0}
  ]},
  "transform": [{"fold": ["h1","h2","h4","h6","h8","h9","h10","h12"], "as": ["k", "v"]}],
  "mark": {"type": "line", "strokeWidth": 2.5},
  "encoding": {"color": {"field": "k", "type": "nominal"}}
},
{
  "data": {"values": [
    {"x1":"2007-08-10T20:35","x2":"2007-08-10T23:56","y1":1.402,"y2":1.577,"xm":"2007-08-10T22:15","ym":1.49,"label":"5ª- 1.36 %"},
    {"x1":"2007-08-10T19:58","x2":"2007-08-10T22:42","y1":0.653,"y2":0.826,"xm":"2007-08-10T21:20","ym":0.74,"label":"7ª- 0.90 %"},
    {"x1":"2007-08-10T23:33","x2":"2007-08-11T02:17","y1":0.136,"y2":0.31,"xm":"2007-08-11T00:55","ym":0.223,"label":"3ª- 0.57 %"}
  ], "format": {"parse": {"x1": "date", "x2": "date", "xm": "date"}}},
  "layer": [
    {"mark": {"type": "rect", "fill": "#FFFF99", "stroke": "#000000", "strokeWidth": 2.5},
     "encoding": {"x": {"field": "x1", "type": "temporal", "title": "Time"}, "x2": {"field": "x2"},
                  "y": {"field": "y1", "type": "quantitative", "title": "THDv(Volts)"}, "y2": {"field": "y2"}}},
    {"mark": {"type": "text", "color": "#FF0000", "font": "Liberation Sans", "fontSize": 28, "fontWeight": "bold", "align": "center", "baseline": "alphabetic", "dy": 12},
     "encoding": {"x": {"field": "xm", "type": "temporal", "title": "Time"},
                  "y": {"field": "ym", "type": "quantitative", "title": "THDv(Volts)"},
                  "text": {"field": "label", "type": "nominal"}}}
  ]
}
]
}
